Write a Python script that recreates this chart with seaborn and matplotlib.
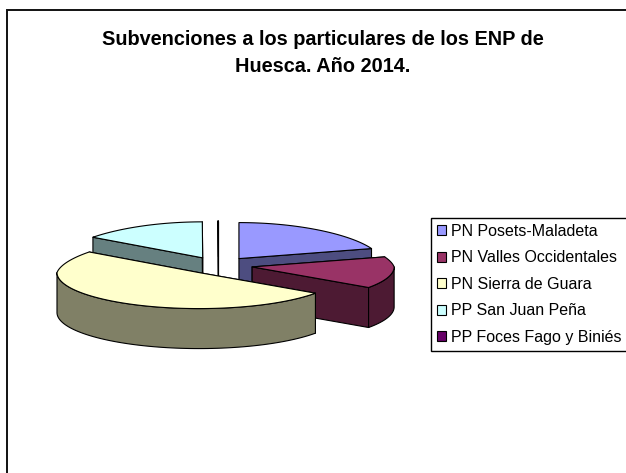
# Subvenciones ENP Huesca - exploded 3D pie, drawn by hand since matplotlib has no 3D pie

import numpy as np
import matplotlib
matplotlib.use("Agg")
import matplotlib.pyplot as plt
from matplotlib.patches import Patch, Rectangle
import seaborn as sns

labels = ["PN Posets-Maladeta", "PN Valles Occidentales", "PN Sierra de Guara",
          "PP San Juan Peña", "PP Foces Fago y Biniés"]
values = [20.5, 14.2, 50.0, 15.25, 0.05]
colors = ["#9999FF", "#993366", "#FFFFCC", "#CCFFFF", "#660066"]

sns.set_theme(style="white")
plt.rcParams["font.family"] = ["Liberation Sans", "DejaVu Sans"]

fig = plt.figure(figsize=(6.26, 4.73), dpi=100)
ax = fig.add_axes([0, 0, 1, 1])
ax.set_xlim(0, 626)
ax.set_ylim(473, 0)
ax.axis("off")

# chart area frame, runs off the right and bottom of the image
ax.add_patch(Rectangle((7, 10), 700, 600, fc="white", ec="#111111", lw=1.4, clip_on=True))

ax.text(323, 53, "Subvenciones a los particulares de los ENP de\nHuesca. Año 2014.",
        ha="center", va="center", fontsize=14.3, fontweight="bold", color="black", linespacing=1.5)

# pie geometry in pixels
cx, cy = 218.5, 265.5
rx, ry = 142, 36
depth = 40
explode = 0.24
back_shrink = 0.1  # perspective: the far side of the pie is a bit narrower


def darker(c):
    return tuple(v * 0.5 for v in matplotlib.colors.to_rgb(c))


def pt(x0, y0, a):
    k = 1 - back_shrink * np.maximum(np.cos(a), 0)
    return x0 + k * rx * np.sin(a), y0 - ry * np.cos(a)


def face(xs, ys, color):
    ax.fill(xs, ys, fc=color, ec="black", lw=0.8, joinstyle="round")


total = sum(values)
edges = np.radians(np.cumsum([0] + values) / total * 360)

# back slices first, so the front ones cover them
for i in [3, 4, 0, 1, 2]:
    a0, a1 = edges[i], edges[i + 1]
    mid = (a0 + a1) / 2
    x0 = cx + explode * rx * np.sin(mid)
    y0 = cy - explode * ry * np.cos(mid)
    wall = darker(colors[i])

    # radial side walls
    for a in (a0, a1):
        ex, ey = pt(x0, y0, a)
        face([x0, ex, ex, x0], [y0, ey, ey + depth, y0 + depth], wall)

    # rounded outer wall, only the part facing the viewer
    lo, hi = max(a0, np.pi / 2), min(a1, 3 * np.pi / 2)
    if hi > lo:
        t = np.linspace(lo, hi, 80)
        ax_, ay_ = pt(x0, y0, t)
        face(np.r_[ax_, ax_[::-1]], np.r_[ay_, ay_[::-1] + depth], wall)

    # top
    t = np.linspace(a0, a1, 120)
    tx, ty = pt(x0, y0, t)
    face(np.r_[x0, tx], np.r_[y0, ty], colors[i])

handles = [Patch(fc=c, ec="black", lw=0.8) for c in colors]
leg = ax.legend(handles, labels, loc="upper left", bbox_to_anchor=(431 / 626, 1 - 218 / 473),
                bbox_transform=fig.transFigure, fontsize=11.5, frameon=True, fancybox=False,
                edgecolor="black", framealpha=1, borderaxespad=0, borderpad=0.36,
                labelspacing=0.72, handlelength=0.6, handleheight=0.6, handletextpad=0.3)
leg.get_frame().set_linewidth(1.0)
for t in leg.get_texts():
    t.set_color("black")

fig.savefig("out.png", dpi=100)
